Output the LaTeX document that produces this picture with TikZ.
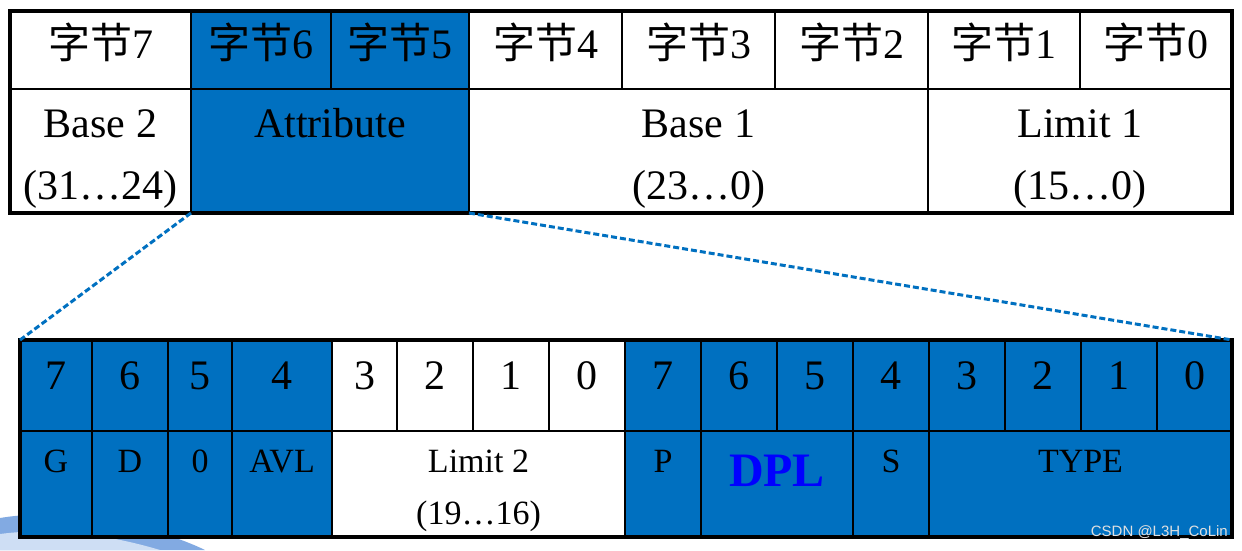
\documentclass[tikz,border=0pt]{standalone}
\usepackage{fontspec}
\setmainfont{Liberation Serif}
\newfontfamily\cjkfont{Noto Sans CJK SC}
\newfontfamily\markfont{Liberation Sans}
\usetikzlibrary{positioning,calc}
\definecolor{FieldBlue}{RGB}{0,112,192}
\definecolor{DplBlue}{RGB}{0,0,255}
\definecolor{SwooshBlue}{RGB}{130,170,226}
\definecolor{SwooshLight}{RGB}{206,222,244}
\tikzset{
  cell/.style={draw=black,line width=1.5pt,inner sep=0pt,outer sep=0pt,anchor=north west},
  bluecell/.style={cell,fill=FieldBlue},
  frame/.style={draw=black,line width=3.5pt,inner sep=0pt,outer sep=0pt,anchor=north west},
  zoomline/.style={draw=FieldBlue,line width=3pt,dash pattern=on 6pt off 3pt},
  bigtxt/.style={font=\fontsize{42}{50}\selectfont,anchor=base,inner sep=0pt},
  bittxt/.style={font=\fontsize{42}{50}\selectfont,anchor=base,inner sep=0pt},
  fieldtxt/.style={font=\fontsize{34}{40}\selectfont,anchor=base,inner sep=0pt},
  dpltxt/.style={font=\fontsize{48}{56}\selectfont\bfseries,text=DplBlue,anchor=base,inner sep=0pt}
}

\begin{document}
\begin{tikzpicture}[x=1pt,y=-1pt]
  \useasboundingbox (0,0) rectangle (1242,550);
  % background swoosh, lower left
  \fill[SwooshBlue] (0,518) .. controls (70,506) and (160,528) .. (205,550) -- (0,550) -- cycle;
  \fill[SwooshLight] (0,534) .. controls (60,526) and (120,538) .. (160,550) -- (0,550) -- cycle;

  % descriptor bytes
  \node[cell,minimum width=181pt,minimum height=78pt] (byte7) at (10,11) {};
  \node[bluecell,minimum width=140pt,minimum height=78pt] (byte6) at (191,11) {};
  \node[bluecell,minimum width=138pt,minimum height=78pt] (byte5) at (331,11) {};
  \node[cell,minimum width=153pt,minimum height=78pt] (byte4) at (469,11) {};
  \node[cell,minimum width=153pt,minimum height=78pt] (byte3) at (622,11) {};
  \node[cell,minimum width=153pt,minimum height=78pt] (byte2) at (775,11) {};
  \node[cell,minimum width=152pt,minimum height=78pt] (byte1) at (928,11) {};
  \node[cell,minimum width=152pt,minimum height=78pt] (byte0) at (1080,11) {};
  \node[cell,minimum width=181pt,minimum height=124pt] (baseb) at (10,89) {};
  \node[bluecell,minimum width=278pt,minimum height=124pt] (attr) at (191,89) {};
  \node[cell,minimum width=459pt,minimum height=124pt] (basea) at (469,89) {};
  \node[cell,minimum width=304pt,minimum height=124pt] (limita) at (928,89) {};
  \node[frame,minimum width=1222pt,minimum height=202pt] (desc) at (10,11) {};

  \node[bigtxt,yshift=-47pt] (tb7) at (byte7.north) {{\cjkfont 字节}7};
  \node[bigtxt,yshift=-47pt] (tb6) at (byte6.north) {{\cjkfont 字节}6};
  \node[bigtxt,yshift=-47pt] (tb5) at (byte5.north) {{\cjkfont 字节}5};
  \node[bigtxt,yshift=-47pt] (tb4) at (byte4.north) {{\cjkfont 字节}4};
  \node[bigtxt,yshift=-47pt] (tb3) at (byte3.north) {{\cjkfont 字节}3};
  \node[bigtxt,yshift=-47pt] (tb2) at (byte2.north) {{\cjkfont 字节}2};
  \node[bigtxt,yshift=-47pt] (tb1) at (byte1.north) {{\cjkfont 字节}1};
  \node[bigtxt,yshift=-47pt] (tb0) at (byte0.north) {{\cjkfont 字节}0};
  \node[bigtxt,yshift=-48pt] (tbaseb) at (baseb.north) {Base 2};
  \node[bigtxt,yshift=-110pt] (rbaseb) at (baseb.north) {(31…24)};
  \node[bigtxt,yshift=-48pt] (tattr) at (attr.north) {Attribute};
  \node[bigtxt,yshift=-48pt] (tbasea) at (basea.north) {Base 1};
  \node[bigtxt,yshift=-110pt] (rbasea) at (basea.north) {(23…0)};
  \node[bigtxt,yshift=-48pt] (tlimita) at (limita.north) {Limit 1};
  \node[bigtxt,yshift=-110pt] (rlimita) at (limita.north) {(15…0)};

  % attribute bits
  \node[bluecell,minimum width=72pt,minimum height=91pt] (hb7) at (20,340) {};
  \node[bluecell,minimum width=76pt,minimum height=91pt] (hb6) at (92,340) {};
  \node[bluecell,minimum width=64pt,minimum height=91pt] (hb5) at (168,340) {};
  \node[bluecell,minimum width=100pt,minimum height=91pt] (hb4) at (232,340) {};
  \node[cell,minimum width=65pt,minimum height=91pt] (hb3) at (332,340) {};
  \node[cell,minimum width=76pt,minimum height=91pt] (hb2) at (397,340) {};
  \node[cell,minimum width=76pt,minimum height=91pt] (hb1) at (473,340) {};
  \node[cell,minimum width=76pt,minimum height=91pt] (hb0) at (549,340) {};
  \node[bluecell,minimum width=76pt,minimum height=91pt] (lb7) at (625,340) {};
  \node[bluecell,minimum width=76pt,minimum height=91pt] (lb6) at (701,340) {};
  \node[bluecell,minimum width=76pt,minimum height=91pt] (lb5) at (777,340) {};
  \node[bluecell,minimum width=76pt,minimum height=91pt] (lb4) at (853,340) {};
  \node[bluecell,minimum width=76pt,minimum height=91pt] (lb3) at (929,340) {};
  \node[bluecell,minimum width=76pt,minimum height=91pt] (lb2) at (1005,340) {};
  \node[bluecell,minimum width=76pt,minimum height=91pt] (lb1) at (1081,340) {};
  \node[bluecell,minimum width=75pt,minimum height=91pt] (lb0) at (1157,340) {};
  \node[bluecell,minimum width=72pt,minimum height=106pt] (fg) at (20,431) {};
  \node[bluecell,minimum width=76pt,minimum height=106pt] (fd) at (92,431) {};
  \node[bluecell,minimum width=64pt,minimum height=106pt] (fzero) at (168,431) {};
  \node[bluecell,minimum width=100pt,minimum height=106pt] (favl) at (232,431) {};
  \node[cell,minimum width=293pt,minimum height=106pt] (flimit) at (332,431) {};
  \node[bluecell,minimum width=76pt,minimum height=106pt] (fp) at (625,431) {};
  \node[bluecell,minimum width=152pt,minimum height=106pt] (fdpl) at (701,431) {};
  \node[bluecell,minimum width=76pt,minimum height=106pt] (fs) at (853,431) {};
  \node[bluecell,minimum width=303pt,minimum height=106pt] (ftype) at (929,431) {};
  \node[frame,minimum width=1212pt,minimum height=197pt] (attrbits) at (20,340) {};

  \node[bittxt,yshift=-49pt] (thb7) at (hb7.north) {7};
  \node[bittxt,yshift=-49pt] (thb6) at (hb6.north) {6};
  \node[bittxt,yshift=-49pt] (thb5) at (hb5.north) {5};
  \node[bittxt,yshift=-49pt] (thb4) at (hb4.north) {4};
  \node[bittxt,yshift=-49pt] (thb3) at (hb3.north) {3};
  \node[bittxt,yshift=-49pt] (thb2) at (hb2.north) {2};
  \node[bittxt,yshift=-49pt] (thb1) at (hb1.north) {1};
  \node[bittxt,yshift=-49pt] (thb0) at (hb0.north) {0};
  \node[bittxt,yshift=-49pt] (tlb7) at (lb7.north) {7};
  \node[bittxt,yshift=-49pt] (tlb6) at (lb6.north) {6};
  \node[bittxt,yshift=-49pt] (tlb5) at (lb5.north) {5};
  \node[bittxt,yshift=-49pt] (tlb4) at (lb4.north) {4};
  \node[bittxt,yshift=-49pt] (tlb3) at (lb3.north) {3};
  \node[bittxt,yshift=-49pt] (tlb2) at (lb2.north) {2};
  \node[bittxt,yshift=-49pt] (tlb1) at (lb1.north) {1};
  \node[bittxt,yshift=-49pt] (tlb0) at (lb0.north) {0};
  \node[fieldtxt,yshift=-41pt] (tfg) at (fg.north) {G};
  \node[fieldtxt,yshift=-41pt] (tfd) at (fd.north) {D};
  \node[fieldtxt,yshift=-41pt] (tfzero) at (fzero.north) {0};
  \node[fieldtxt,yshift=-41pt] (tfavl) at (favl.north) {AVL};
  \node[fieldtxt,yshift=-41pt] (tflimit) at (flimit.north) {Limit 2};
  \node[fieldtxt,yshift=-93pt] (rflimit) at (flimit.north) {(19…16)};
  \node[fieldtxt,yshift=-41pt] (tfp) at (fp.north) {P};
  \node[dpltxt,yshift=-55pt] (tfdpl) at (fdpl.north) {DPL};
  \node[fieldtxt,yshift=-41pt] (tfs) at (fs.north) {S};
  \node[fieldtxt,yshift=-41pt] (tftype) at (ftype.north) {TYPE};

  % zoom lines
  \draw[zoomline] (attr.south west) -- (attrbits.north west);
  \draw[zoomline] (attr.south east) -- (attrbits.north east);

  \node[font=\markfont\fontsize{15}{17}\selectfont,text=white!88!black,anchor=base east,inner sep=0pt] (wm) at (1228,536) {CSDN @L3H\_CoLin};
\end{tikzpicture}
\end{document}
